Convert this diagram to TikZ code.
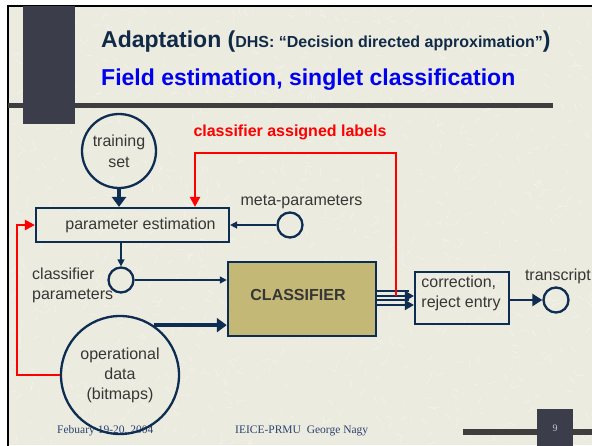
\documentclass[tikz,border=0pt]{standalone}
\usepackage{fontspec}
\setmainfont{Liberation Sans}
\newfontfamily\timesfont{Liberation Serif}
\usetikzlibrary{arrows.meta,calc}
\definecolor{bg}{HTML}{ECEBDF}
\definecolor{navy}{HTML}{0E2D52}
\definecolor{titlenavy}{HTML}{102A48}
\definecolor{txt}{HTML}{363636}
\definecolor{khaki}{HTML}{C4B877}
\definecolor{darkbar}{HTML}{3C3D4B}
\definecolor{hbar}{HTML}{3E3E3E}
\definecolor{footc}{HTML}{2C4272}
\definecolor{pagenum}{HTML}{C8C8C8}
\definecolor{tblue}{HTML}{0000F0}
\tikzset{
  lbl/.style={font=\fontsize{16}{20}\selectfont, text=txt, inner sep=0pt, align=center},
  circ/.style={circle, draw=navy, line width=2.3pt, inner sep=0pt},
  boxn/.style={rectangle, draw=navy, line width=2.2pt, inner sep=0pt},
  thinarr/.style={draw=navy, line width=1.4pt, -{Triangle[length=7pt,width=7pt]}},
  midarr/.style={draw=navy, line width=2.6pt, -{Triangle[length=10pt,width=12pt]}},
  thickarr/.style={draw=navy, line width=3.6pt, -{Triangle[length=10pt,width=14pt]}},
  outline/.style={draw=navy, line width=1.8pt},
  outarr/.style={draw=navy, line width=1.8pt, -{Triangle[length=9pt,width=10pt]}},
  redarr/.style={draw=red, line width=2.3pt, -{Triangle[length=10pt,width=10pt]}},
  footer/.style={font=\timesfont\fontsize{11.5}{13}\selectfont, text=footc, inner sep=0pt, anchor=base west},
  texture/.style={draw=white, opacity=0.45, line width=0.5pt},
}
\begin{document}
\begin{tikzpicture}[x=1pt,y=-1pt]
\clip (0,0) rectangle (592,445);
\useasboundingbox (0,0) rectangle (592,445);
% slide background and frame
\fill[white] (0,0) rectangle (592,445);
\fill[bg] (8,6) rectangle (592,445);
\pgfmathsetseed{11}
\foreach \i in {1,...,900}{
  \pgfmathsetmacro{\tx}{8+584*rnd}
  \pgfmathsetmacro{\ty}{6+439*rnd}
  \pgfmathsetmacro{\ta}{360*rnd}
  \draw[texture] (\tx,\ty) -- ++(\ta:7);
}
\draw[black, line width=2pt] (8,446) -- (8,6) -- (593,6);
\fill[hbar] (8,103) rectangle (553,108);
\fill[darkbar] (23,6) rectangle (75,124);
% title
\node[anchor=base west, inner sep=0pt, text=titlenavy, font=\bfseries] (title1) at (101,47)
  {\fontsize{23}{26}\selectfont Adaptation (\fontsize{16}{20}\selectfont DHS: “Decision directed approximation”\fontsize{23}{26}\selectfont)};
\node[anchor=base west, inner sep=0pt, text=tblue, font=\bfseries\fontsize{23}{26}\selectfont] (title2) at (101,85)
  {Field estimation, singlet classification};
% footer
\fill[hbar] (463,429) rectangle (592,435);
\fill[darkbar] (537,409) rectangle (573,446);
\node[inner sep=0pt, text=pagenum, font=\timesfont\fontsize{10}{12}\selectfont] (pnum) at (555,428) {9};
\node[footer] (fdate) at (57,433) {Febuary 19-20, 2004};
\node[footer] (fauth) at (235,433) {IEICE-PRMU\ \ George Nagy};
% nodes
\node[circ, minimum size=74pt, lbl, draw=navy] (train) at (119,151) {training\\[1pt]set};
\node[boxn, minimum width=193pt, minimum height=34pt, lbl] (pe) at (132.5,225) {\hspace*{16pt}parameter estimation};
\node[circ, minimum size=25pt] (meta) at (290,225) {};
\node[lbl] (metalbl) at (301.5,202) {meta-parameters};
\node[circ, minimum size=25pt] (cp) at (121,280) {};
\node[lbl, align=left, anchor=north west] (cplbl) at (32,268) {classifier\\parameters};
\node[boxn, line width=2.5pt, fill=khaki, minimum width=148pt, minimum height=74pt] (cls) at (302,299) {};
\node[lbl, font=\bfseries\fontsize{16}{20}\selectfont] (clslbl) at (298,295) {CLASSIFIER};
\node[boxn, minimum width=94pt, minimum height=52pt] (corr) at (462,298) {};
\node[lbl, align=left] (corrlbl) at (461,293) {correction,\\reject entry};
\node[circ, minimum size=25pt] (tr) at (556,300) {};
\node[lbl, anchor=east] (trlbl) at (591,276) {transcript};
\node[circ, minimum size=118pt, lbl] (op) at (120,375) {operational\\data\\(bitmaps)};
\node[lbl, text=red, font=\bfseries\fontsize{16}{20}\selectfont] (redlbl) at (290,132) {classifier assigned labels};
% coordinates
\coordinate (l1) at (0,291);
\coordinate (l2) at (0,296);
\coordinate (l3) at (0,300);
\coordinate (l4) at (0,305);
\coordinate (rj) at (396,296);
\coordinate (rtopL) at (195,153);
\coordinate (rl) at (17,0);
% connectors
\draw[thickarr] (train.south) -- (pe.north -| train.south);
\draw[thinarr] (meta.west) -- (pe.east |- meta.west);
\draw[thinarr] (pe.south -| cp.north) -- (cp.north);
\draw[thinarr] (cp.east) -- (cp.east -| cls.west);
\draw[thickarr] (op.56) -- (op.56 -| cls.west);
\draw[outline] (cls.east |- l1) -- ([xshift=-5pt]corr.west |- l1);
\draw[outline] (cls.east |- l3) -- ([xshift=-5pt]corr.west |- l3);
\draw[outarr] (cls.east |- l2) -- (corr.west |- l2);
\draw[outarr] (cls.east |- l4) -- (corr.west |- l4);
\draw[midarr] (corr.east |- tr.west) -- (tr.west);
\draw[redarr] (rj) |- (rtopL) -- (rtopL |- pe.north);
\draw[redarr] (op.west) -- (op.west -| rl) |- (pe.west);
\end{tikzpicture}
\end{document}
